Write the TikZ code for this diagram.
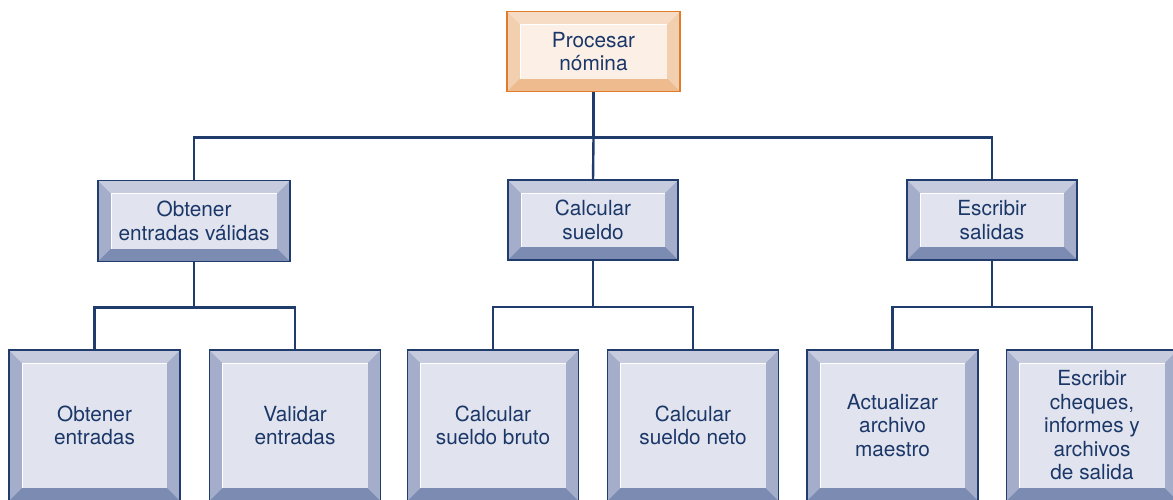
\documentclass[tikz,border=0pt]{standalone}
\usepackage{fontspec}
\setmainfont{TeX Gyre Heros}
\usepackage{xcolor}
\usepackage{tikz}
\usetikzlibrary{calc}

\definecolor{azulborde}{HTML}{1F3C6C}
\definecolor{azulsup}{HTML}{C6CBDD}
\definecolor{azullado}{HTML}{A4ADCA}
\definecolor{azulinf}{HTML}{7B8BB2}
\definecolor{azulcara}{HTML}{E1E4EE}
\definecolor{narborde}{HTML}{E07B2B}
\definecolor{narsup}{HTML}{F6DCC4}
\definecolor{narlado}{HTML}{F2CFAF}
\definecolor{narinf}{HTML}{EDBB8E}
\definecolor{narcara}{HTML}{FBEFE6}
\definecolor{texto}{HTML}{1B3768}

\tikzset{
  bisel/.style n args={5}{
    draw=#1, line width=1.3pt, fill=#3, inner sep=0pt, outer sep=0pt,
    text=texto, align=center, font=\fontsize{20.8}{23.5}\selectfont,
    path picture={
      \coordinate (bnw) at (path picture bounding box.north west);
      \coordinate (bne) at (path picture bounding box.north east);
      \coordinate (bsw) at (path picture bounding box.south west);
      \coordinate (bse) at (path picture bounding box.south east);
      \fill[#2] (bnw) -- (bne) -- ($(bne)+(-13,13)$) -- ($(bnw)+(13,13)$) -- cycle;
      \fill[#4] (bsw) -- (bse) -- ($(bse)+(-13,-13)$) -- ($(bsw)+(13,-13)$) -- cycle;
      \fill[#5] ($(bnw)+(13,13)$) rectangle ($(bse)+(-13,-13)$);
      \draw[white, line width=1pt] ($(bsw)+(13,-13)$) -- ($(bnw)+(13,13)$) -- ($(bne)+(-13,13)$);
    }},
  cajaazul/.style={bisel={azulborde}{azulsup}{azullado}{azulinf}{azulcara}},
  cajanaranja/.style={bisel={narborde}{narsup}{narlado}{narinf}{narcara}},
  hoja/.style={cajaazul, minimum width=171, minimum height=151},
  conector/.style={draw=azulborde, line width=2.4pt},
}

\begin{document}
\begin{tikzpicture}[x=1pt, y=-1pt]
\useasboundingbox (0,0) rectangle (1173,499);

% ---- Modulo principal ----
\node[cajanaranja, minimum width=173, minimum height=80] (proc) at (593.5,51.5) {Procesar\\nómina};

% ---- Segundo nivel ----
\node[cajaazul, minimum width=192, minimum height=81] (obt) at (194,221) {Obtener\\entradas válidas};
\node[cajaazul, minimum width=170, minimum height=80] (calc) at (593,220) {Calcular\\sueldo};
\node[cajaazul, minimum width=170, minimum height=80] (esc) at (992,220) {Escribir\\salidas};

% ---- Tercer nivel ----
\node[hoja] (oe) at (94.5,425.5) {Obtener\\entradas};
\node[hoja] (ve) at (295,425.5)  {Validar\\entradas};
\node[hoja] (sb) at (493,425.5)  {Calcular\\sueldo bruto};
\node[hoja] (sn) at (693,425.5)  {Calcular\\sueldo neto};
\node[hoja] (am) at (892.5,425.5) {Actualizar\\archivo\\maestro};
\node[hoja] (ec) at (1092,425.5) {Escribir\\cheques,\\informes y\\archivos\\de salida};

% ---- Conectores ----
\draw[conector] (proc.south) -- ++(0,46) coordinate (j0) -| (obt.north);
\draw[conector] (j0) -| (esc.north);
\draw[conector] (j0) -- (calc.north);

\draw[conector] (obt.south) -- ++(0,46) coordinate (j1) -| (oe.north);
\draw[conector] (j1) -| (ve.north);
\draw[conector] (calc.south) -- ++(0,47) coordinate (j2) -| (sb.north);
\draw[conector] (j2) -| (sn.north);
\draw[conector] (esc.south) -- ++(0,47) coordinate (j3) -| (am.north);
\draw[conector] (j3) -| (ec.north);

\end{tikzpicture}
\end{document}
